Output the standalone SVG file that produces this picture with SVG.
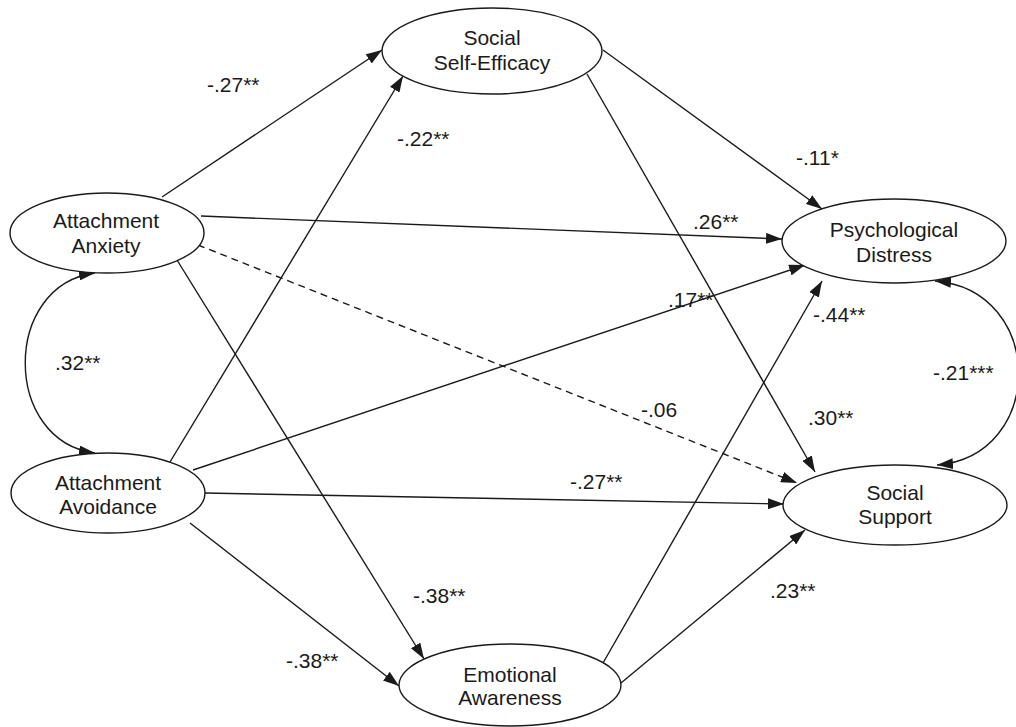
<svg xmlns="http://www.w3.org/2000/svg" width="1016" height="727" viewBox="0 0 1016 727">
<style>
.node ellipse{fill:#fff;stroke:#1a1a1a;stroke-width:1.4}
text{font-family:"Liberation Sans",Arial,sans-serif;font-size:21px;fill:#1a1a1a}
.node text{text-anchor:middle}
.edge{fill:none;stroke:#1a1a1a;stroke-width:1.4;marker-end:url(#ah)}
.dash{stroke-dasharray:7 5}
.both{marker-start:url(#ahs)}
</style>
<defs>
<marker id="ah" viewBox="0 0 16 11" refX="16" refY="5.5" markerWidth="16" markerHeight="11" markerUnits="userSpaceOnUse" orient="auto"><path d="M0,0 L16,5.5 L0,11 z" fill="#1a1a1a"/></marker>
<marker id="ahs" viewBox="0 0 16 11" refX="16" refY="5.5" markerWidth="16" markerHeight="11" markerUnits="userSpaceOnUse" orient="auto-start-reverse"><path d="M0,0 L16,5.5 L0,11 z" fill="#1a1a1a"/></marker>
</defs>
<rect width="1016" height="727" fill="#fff"/>
<g id="connectors">
<path class="edge" d="M162,197 L382,50"/>
<path class="edge" d="M170,462 L403,76"/>
<path class="edge" d="M177,260 L424,659"/>
<path class="edge" d="M190,523 L399,686"/>
<path class="edge" d="M201,216 L782,239"/>
<path class="edge dash" d="M198,245 L797,483"/>
<path class="edge" d="M193,470 L805,265"/>
<path class="edge" d="M205,493 L784,504"/>
<path class="edge" d="M603,50 L822,209"/>
<path class="edge" d="M587,74 L815,472"/>
<path class="edge" d="M603,663 L822,281"/>
<path class="edge" d="M621,683 L805,530"/>
<path class="edge both" d="M95,273 C2,285 2,441 95,453"/>
<path class="edge both" d="M935,281 C1046,290 1046,456 937,465"/>
</g>
<g id="labels">
<text x="207" y="92">-.27**</text>
<text x="397" y="146">-.22**</text>
<text x="796" y="165">-.11*</text>
<text x="693" y="229">.26**</text>
<text x="668" y="307">.17**</text>
<text x="813" y="322">-.44**</text>
<text x="933" y="380">-.21***</text>
<text x="808" y="425">.30**</text>
<text x="641" y="417">-.06</text>
<text x="570" y="489">-.27**</text>
<text x="55" y="370">.32**</text>
<text x="413" y="603">-.38**</text>
<text x="286" y="668">-.38**</text>
<text x="770" y="598">.23**</text>
</g>
<g id="node-sse" class="node"><ellipse cx="492" cy="51" rx="110" ry="43"/><text x="492" y="45">Social</text><text x="492" y="70">Self-Efficacy</text></g>
<g id="node-anxiety" class="node"><ellipse cx="107" cy="233" rx="97" ry="40"/><text x="106" y="228">Attachment</text><text x="106" y="253">Anxiety</text></g>
<g id="node-avoidance" class="node"><ellipse cx="108" cy="493" rx="97" ry="40"/><text x="108" y="490">Attachment</text><text x="108" y="514">Avoidance</text></g>
<g id="node-distress" class="node"><ellipse cx="894" cy="241" rx="112" ry="42"/><text x="894" y="237">Psychological</text><text x="894" y="262">Distress</text></g>
<g id="node-support" class="node"><ellipse cx="895" cy="505" rx="112" ry="40"/><text x="895" y="500">Social</text><text x="895" y="524">Support</text></g>
<g id="node-awareness" class="node"><ellipse cx="510" cy="685" rx="111" ry="41"/><text x="510" y="682">Emotional</text><text x="510" y="705">Awareness</text></g>
</svg>
